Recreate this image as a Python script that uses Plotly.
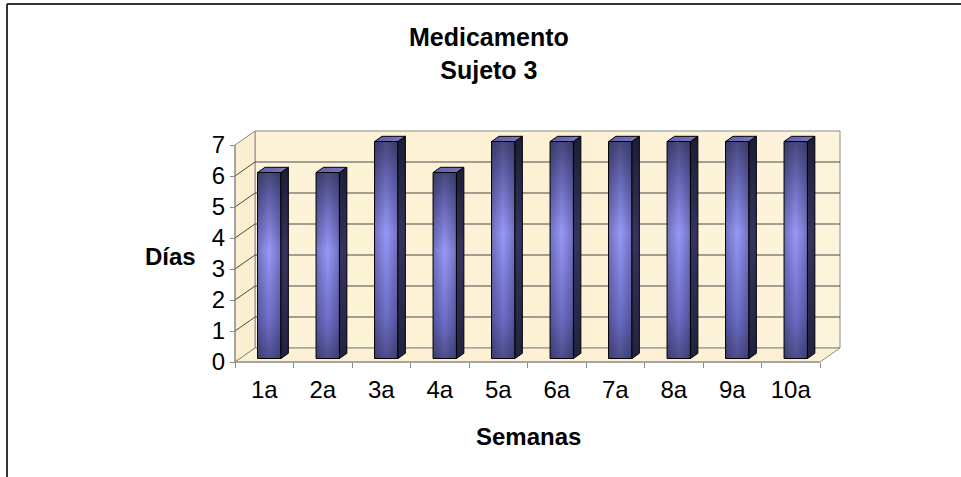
import plotly.graph_objects as go

# Chart data
semanas = ["1a", "2a", "3a", "4a", "5a", "6a", "7a", "8a", "9a", "10a"]
dias = [6, 6, 7, 6, 7, 7, 7, 7, 7, 7]
y_ticks = [0, 1, 2, 3, 4, 5, 6, 7]
titulo = "<b>Medicamento</b><br><b>Sujeto 3</b>"
titulo_y = "<b>Días</b>"
titulo_x = "<b>Semanas</b>"

W, H = 961, 477
FONT = "Arial, Liberation Sans, sans-serif"

# Pixel scale of the front plane and the oblique depth offset
X0_PX, PX_PER_CAT = 235, 58.5
Y0_PX, PX_PER_DAY = 362, 31.0
DEPTH_PX = (20, 14)
DX = DEPTH_PX[0] / PX_PER_CAT
DY = DEPTH_PX[1] / PX_PER_DAY

n = len(semanas)
vmax = y_ticks[-1]
left, right = -0.5, n - 0.5
BAR_HALF = 0.2          # half bar width in category units
D0, D1 = 0.25, 0.62     # bar front / back depth fraction

x_range = [left - X0_PX / PX_PER_CAT, left + (W - X0_PX) / PX_PER_CAT]
y_range = [-(H - Y0_PX) / PX_PER_DAY, Y0_PX / PX_PER_DAY]


def P(u, v, d):
    """Project a (category, value, depth) point onto the 2D axes."""
    return u + d * DX, v + d * DY


def poly(points):
    xs = [p[0] for p in points] + [points[0][0]]
    ys = [p[1] for p in points] + [points[0][1]]
    return xs, ys


traces = []


def face(points, fill=None, gradient=None, line_color=None, line_width=1):
    xs, ys = poly(points)
    kw = dict(x=xs, y=ys, fill="toself", hoverinfo="skip", showlegend=False)
    if line_color:
        kw["mode"] = "lines"
        kw["line"] = dict(color=line_color, width=line_width)
    else:
        kw["mode"] = "none"
    if gradient:
        kw["fillgradient"] = gradient
    else:
        kw["fillcolor"] = fill
    traces.append(go.Scatter(**kw))


def segment(points, color, width=1):
    traces.append(go.Scatter(x=[p[0] for p in points], y=[p[1] for p in points],
                             mode="lines", line=dict(color=color, width=width),
                             hoverinfo="skip", showlegend=False))


WALL = "#fcf1d5"
WALL_SIDE = "#fbefd0"
EDGE = "#8a8a8a"
GRID = "#4a4a4a"

# Back wall, side wall and floor
face([P(left, 0, 1), P(right, 0, 1), P(right, vmax, 1), P(left, vmax, 1)],
     gradient=dict(type="horizontal",
                   colorscale=[[0, "#fdf3d8"], [0.5, "#fcf1d4"], [1, "#fdf4dc"]]),
     line_color=EDGE)
face([P(left, 0, 0), P(left, 0, 1), P(left, vmax, 1), P(left, vmax, 0)],
     fill=WALL_SIDE, line_color=EDGE)
face([P(left, 0, 0), P(right, 0, 0), P(right, 0, 1), P(left, 0, 1)],
     fill=WALL, line_color=EDGE)

# Gridlines across the side wall and back wall
for v in y_ticks[1:-1]:
    segment([P(left, v, 0), P(left, v, 1), P(right, v, 1)], GRID)

# Bars as oblique prisms
front_scale = [[0, "#4e4e8c"], [0.18, "#6c6cc4"], [0.58, "#9898f8"],
               [0.85, "#6464b0"], [1, "#48487c"]]
side_scale = [[0, "#22223f"], [0.55, "#34345f"], [1, "#1d1d36"]]
shade_scale = [[0, "rgba(15,15,45,0.28)"], [0.5, "rgba(15,15,45,0)"],
               [1, "rgba(15,15,45,0.28)"]]

for i, val in enumerate(dias):
    a, b = i - BAR_HALF, i + BAR_HALF
    front = [P(a, 0, D0), P(b, 0, D0), P(b, val, D0), P(a, val, D0)]
    side = [P(b, 0, D0), P(b, 0, D1), P(b, val, D1), P(b, val, D0)]
    top = [P(a, val, D0), P(b, val, D0), P(b, val, D1), P(a, val, D1)]
    face(front, gradient=dict(type="vertical", colorscale=front_scale))
    face(front, gradient=dict(type="horizontal", colorscale=shade_scale))
    face(front, fill="rgba(0,0,0,0)", line_color="black")
    face(side, gradient=dict(type="vertical", colorscale=side_scale), line_color="black")
    face(top, gradient=dict(type="horizontal",
                            colorscale=[[0, "#6060a8"], [1, "#7878c4"]]),
         line_color="black")

# Front axis lines
segment([P(left, 0, 0), P(right, 0, 0)], EDGE)
segment([P(left, 0, 0), P(left, vmax, 0)], EDGE)

fig = go.Figure(traces)

fig.update_layout(
    width=W, height=H,
    margin=dict(l=0, r=0, t=0, b=0, pad=0),
    paper_bgcolor="white", plot_bgcolor="white",
    font=dict(family=FONT, color="black"),
    showlegend=False,
    xaxis=dict(
        range=x_range, anchor="free", position=(H - Y0_PX) / H,
        tickmode="array", tickvals=list(range(n)), ticktext=semanas,
        ticks="outside", ticklen=6, tickcolor="rgba(0,0,0,0)",
        tickfont=dict(size=24, family=FONT),
        minor=dict(tickmode="array", tickvals=[k - 0.5 for k in range(n + 1)],
                   ticks="outside", ticklen=5, tickcolor=EDGE, tickwidth=1),
        showgrid=False, zeroline=False, showline=False, fixedrange=True,
    ),
    yaxis=dict(
        range=y_range, anchor="free", position=X0_PX / W,
        tickmode="array", tickvals=y_ticks,
        ticks="outside", ticklen=5, tickcolor=EDGE, tickwidth=1,
        tickfont=dict(size=24, family=FONT),
        showgrid=False, zeroline=False, showline=False, fixedrange=True,
    ),
    annotations=[
        dict(text=titulo, x=489 / W, y=1 - 54 / H, xref="paper", yref="paper",
             showarrow=False, xanchor="center", yanchor="middle",
             font=dict(size=25, family=FONT)),
        dict(text=titulo_y, x=170 / W, y=1 - 256 / H, xref="paper", yref="paper",
             showarrow=False, xanchor="center", yanchor="middle",
             font=dict(size=24, family=FONT)),
        dict(text=titulo_x, x=528 / W, y=1 - 436 / H, xref="paper", yref="paper",
             showarrow=False, xanchor="center", yanchor="middle",
             font=dict(size=24, family=FONT)),
    ],
    shapes=[
        dict(type="line", xref="paper", yref="paper", x0=7 / W, x1=1.01,
             y0=1 - 4 / H, y1=1 - 4 / H, line=dict(color="#333333", width=2)),
        dict(type="line", xref="paper", yref="paper", x0=7 / W, x1=7 / W,
             y0=1 - 4 / H, y1=-0.01, line=dict(color="#333333", width=2)),
    ],
)

fig.write_html("out.html")
